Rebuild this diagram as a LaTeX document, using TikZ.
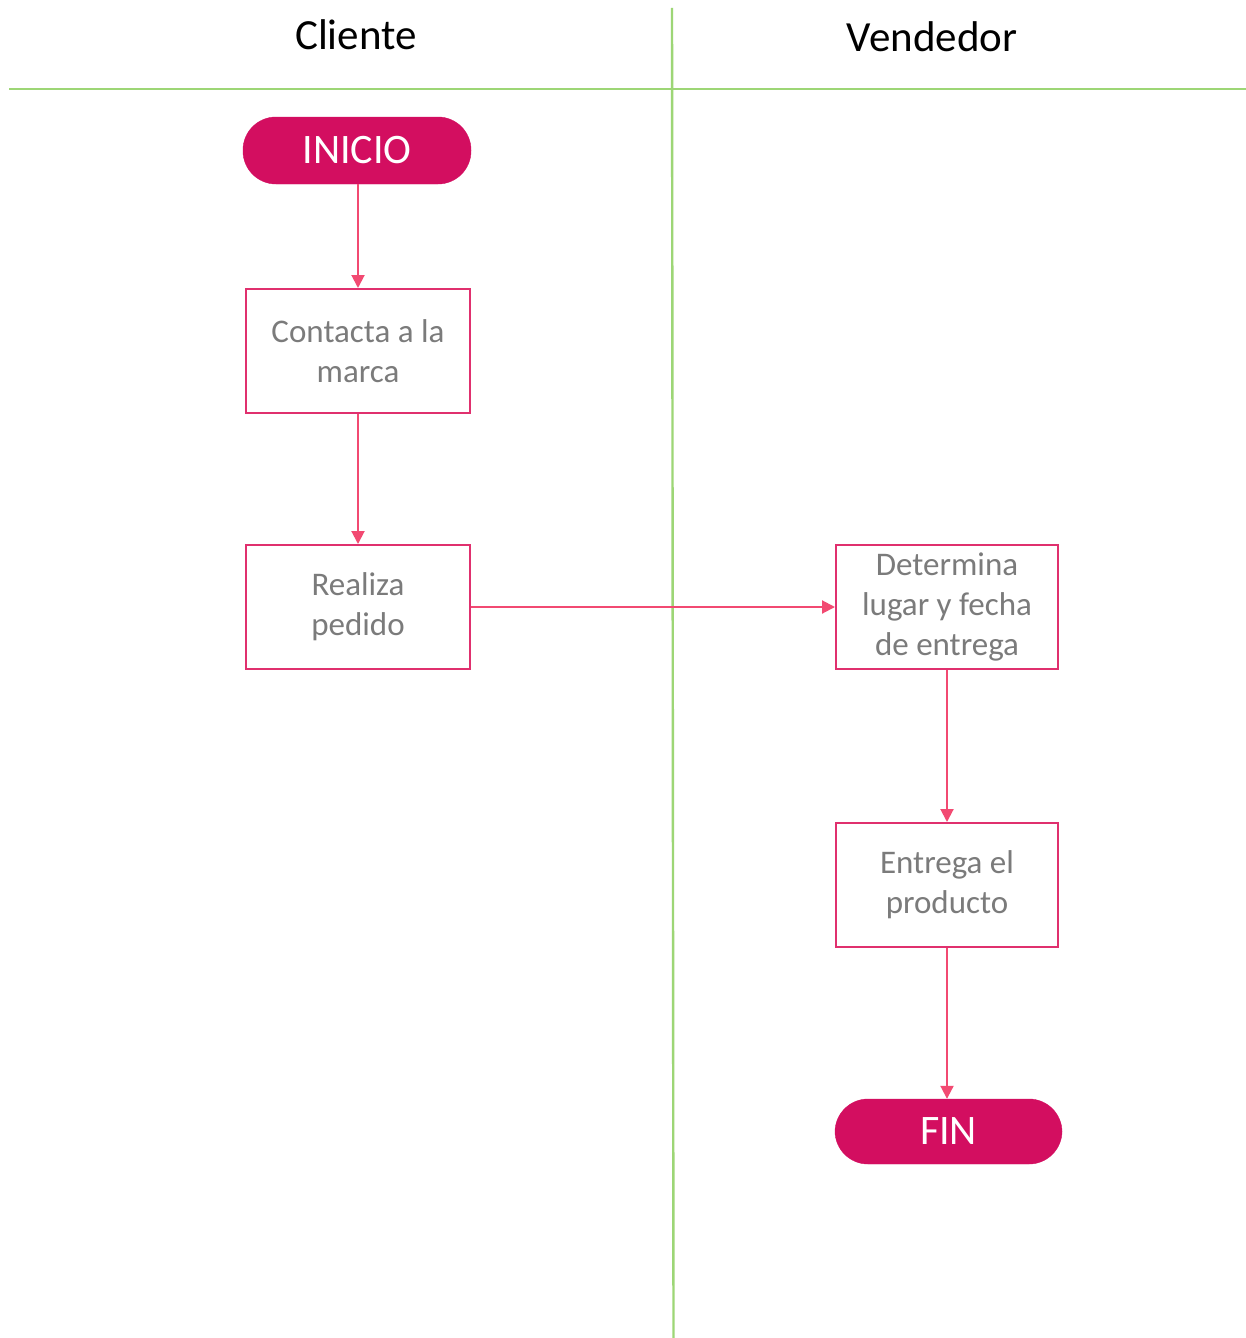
\documentclass[tikz,border=0pt]{standalone}
\usepackage{fontspec}
\setmainfont{Carlito}
\usetikzlibrary{arrows.meta}
\definecolor{lanegreen}{HTML}{9DD676}
\definecolor{termfill}{HTML}{D30E60}
\definecolor{boxline}{HTML}{E0306E}
\definecolor{flowline}{HTML}{F24A72}
\definecolor{boxtext}{HTML}{7B7B7B}
\tikzset{
  lane/.style={draw=lanegreen, line width=2.4pt},
  lanetitle/.style={font=\fontsize{43}{50}\selectfont, text=black, inner sep=0pt, anchor=base},
  terminal/.style={rectangle, rounded corners=33pt, fill=termfill, draw=termfill,
    minimum width=228pt, minimum height=67pt, inner sep=0pt,
    text=white, font=\fontsize{42}{48}\selectfont},
  stepbox/.style={rectangle, draw=boxline, line width=2pt, fill=white,
    minimum width=224pt, minimum height=124pt, inner sep=0pt, align=center,
    text=boxtext, font=\fontsize{33}{40}\selectfont},
  flow/.style={draw=flowline, line width=2pt, -{Triangle[width=13pt,length=13pt]}}
}
\begin{document}
\begin{tikzpicture}[x=1pt, y=-1pt]
  \useasboundingbox (0,0) rectangle (1246,1338);
  \fill[white] (0,0) rectangle (1246,1338);

  % swimlane frame
  \coordinate (hl) at (9,89);
  \coordinate (hr) at (1246,89);
  \coordinate (vt) at (672,8);
  \coordinate (vb) at (673.5,1338);
  \draw[lane] (hl) -- (hr);
  \draw[lane] (vt) -- (vb);

  % lane titles
  \node[lanetitle] (cliente) at (356,50) {Cliente};
  \node[lanetitle] (vendedor) at (932,52) {Vendedor};

  % flow nodes
  \node[terminal] (inicio) at (357,150.5) {INICIO};
  \node[stepbox] (contacta) at (358,351) {Contacta a la\\marca};
  \node[stepbox] (pedido) at (358,607) {Realiza\\pedido};
  \node[stepbox, minimum width=222pt] (determina) at (947,607) {Determina\\lugar y fecha\\de entrega};
  \node[stepbox, minimum width=222pt] (entrega) at (947,885) {Entrega el\\producto};
  \node[terminal, minimum width=227pt, minimum height=65pt] (fin) at (948.5,1131.5) {FIN};

  % connectors
  \draw[flow] (inicio.south -| contacta.north) -- (contacta.north);
  \draw[flow] (contacta) -- (pedido);
  \draw[flow] (pedido) -- (determina);
  \draw[flow] (determina) -- (entrega);
  \draw[flow] (entrega.south) -- (entrega.south |- fin.north);
\end{tikzpicture}
\end{document}
